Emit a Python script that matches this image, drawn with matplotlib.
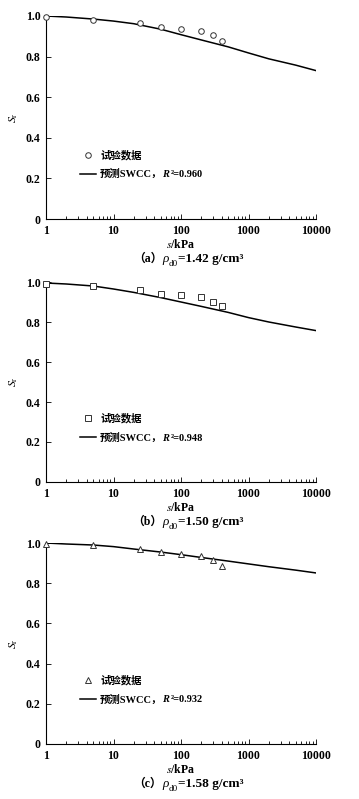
import matplotlib
matplotlib.use("Agg")
import matplotlib.pyplot as plt
import numpy as np

plt.rcParams['font.family'] = ['Liberation Serif', 'Noto Sans CJK SC', 'DejaVu Sans']
plt.rcParams['mathtext.fontset'] = 'stix'

# 试验数据 (吸力 s, kPa)
s_test = [1, 5, 25, 50, 100, 200, 300, 400]
sr_a = [0.997, 0.980, 0.966, 0.944, 0.936, 0.926, 0.906, 0.878]
sr_b = [0.990, 0.980, 0.962, 0.942, 0.934, 0.924, 0.901, 0.878]
sr_c = [0.997, 0.988, 0.970, 0.954, 0.944, 0.934, 0.914, 0.886]

# 预测 SWCC
s_pred = [1, 2, 5, 10, 20, 50, 100, 200, 500, 1000, 2000, 5000, 10000]
pred_a = [1.000, 0.995, 0.985, 0.975, 0.962, 0.935, 0.908, 0.882, 0.848, 0.818, 0.789, 0.758, 0.731]
pred_b = [0.995, 0.990, 0.980, 0.965, 0.948, 0.922, 0.900, 0.878, 0.848, 0.822, 0.800, 0.775, 0.757]
pred_c = [1.000, 0.995, 0.990, 0.982, 0.970, 0.955, 0.942, 0.928, 0.910, 0.896, 0.882, 0.865, 0.851]

r2 = ['0.960', '0.948', '0.932']
markers = ['o', 's', '^']
captions = ['a', 'b', 'c']
rho = ['1.42', '1.50', '1.58']
tests = [sr_a, sr_b, sr_c]
preds = [pred_a, pred_b, pred_c]

fig = plt.figure(figsize=(3.59, 7.99), dpi=100)
# 各子图位置 (top, bottom, 像素)
boxes = [(16, 219), (282, 482), (543, 744)]
W, H = 359, 799


def after(prev, txt, dy=0, dx=0, **kw):
    # 把一段文字接在上一段后面
    return ax.annotate(txt, xy=(1, 0), xycoords=prev, xytext=(dx, dy),
                       textcoords='offset pixels', ha='left', va='bottom',
                       annotation_clip=False, zorder=6, **kw)


for i in range(3):
    top, bot = boxes[i]
    ax = fig.add_axes([46 / W, 1 - bot / H, 270 / W, (bot - top) / H])
    ax.plot(s_test, tests[i], linestyle='none', marker=markers[i], mfc='white',
            mec='#333333', ms=4, mew=0.7, clip_on=False, label='试验数据', zorder=3)
    ax.plot(s_pred, preds[i], color='black', lw=1.1, label='预测SWCC，')
    ax.set_xscale('log')
    ax.set_xlim(1, 10000)
    ax.set_ylim(0, 1.0)
    ax.set_xticks([1, 10, 100, 1000, 10000])
    ax.set_xticklabels(['1', '10', '100', '1000', '10000'])
    ax.set_yticks([0, 0.2, 0.4, 0.6, 0.8, 1.0])
    ax.set_yticklabels(['0', '0.2', '0.4', '0.6', '0.8', '1.0'])
    ax.spines['top'].set_visible(False)
    ax.spines['right'].set_visible(False)
    ax.tick_params(direction='in', length=3.5, width=0.6, labelsize=8.5, pad=4)
    ax.tick_params(axis='x', which='minor', direction='in', length=2.5, width=0.6)
    for lab in ax.get_xticklabels() + ax.get_yticklabels():
        lab.set_fontweight('bold')
    ax.set_ylabel('$\\mathit{S}_\\mathrm{r}$', fontsize=8.5, labelpad=4)
    ax.set_xlabel('$\\mathit{s}$/kPa', fontsize=8.5, fontweight='bold', labelpad=1)

    leg = ax.legend(loc='lower left', bbox_to_anchor=(0.09, 0.15), frameon=False,
                    fontsize=7.5, handlelength=1.6, handletextpad=0.35, labelspacing=0.85)
    for t in leg.get_texts():
        t.set_fontweight('bold')
    p = after(leg.get_texts()[1], 'R', fontsize=7.5, fontweight='bold', style='italic')
    after(p, '²=' + r2[i], dx=1, fontsize=7.5, fontweight='bold')

    # 图题
    c1 = ax.annotate('（' + captions[i] + '）', xy=(0.43, 0), xycoords='axes fraction',
                     xytext=(0, -46), textcoords='offset pixels', ha='right', va='bottom',
                     fontsize=8.5, fontweight='bold', annotation_clip=False)
    c2 = after(c1, 'ρ', fontsize=9.5, style='italic')
    c3 = after(c2, 'd0', dy=-3, fontsize=6.5)
    after(c3, '=' + rho[i] + ' g/cm³', dy=3, fontsize=9.5, fontweight='bold')

fig.canvas.draw()
fig.savefig('out.png', dpi=100)
